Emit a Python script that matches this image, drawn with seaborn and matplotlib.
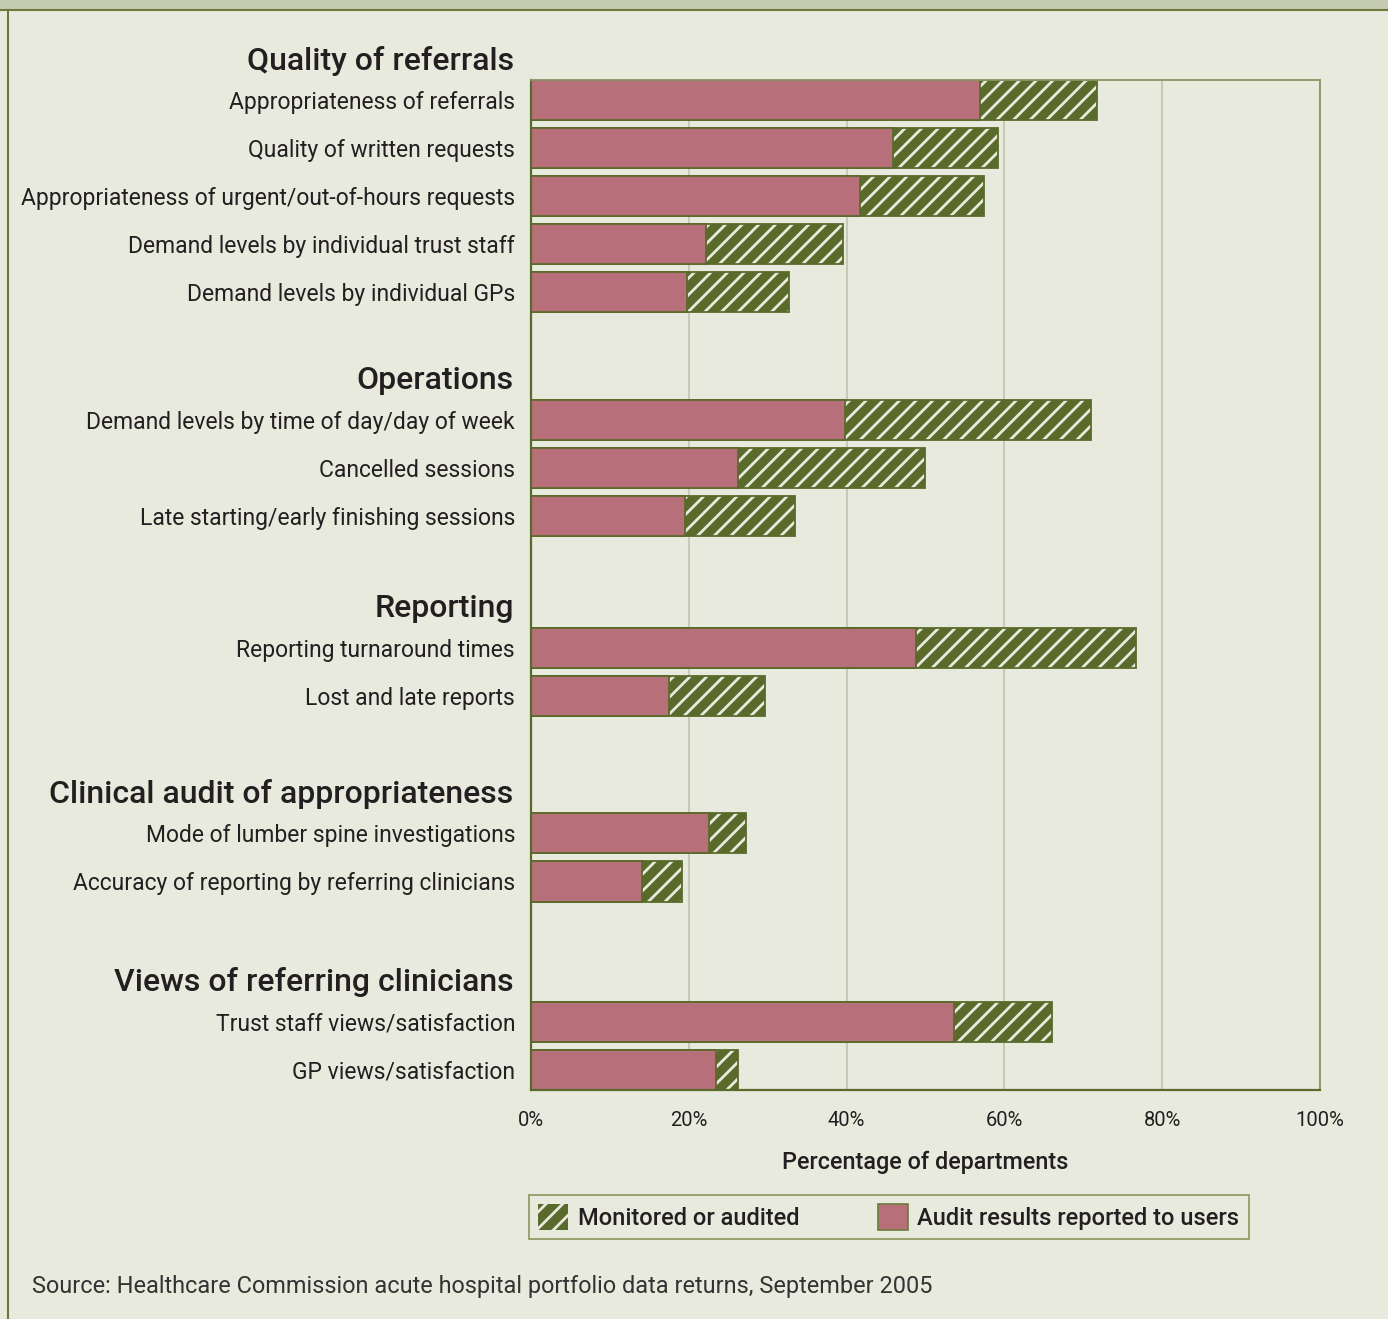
import pandas as pd
import matplotlib.pyplot as plt
import seaborn as sns
from matplotlib.patches import Patch, Rectangle
from matplotlib.lines import Line2D
from matplotlib.transforms import blended_transform_factory

groups = ['Quality of referrals'] * 5 + ['Operations'] * 3 + ['Reporting'] * 2 + \
         ['Clinical audit of appropriateness'] * 2 + ['Views of referring clinicians'] * 2

items = [
    'Appropriateness of referrals',
    'Quality of written requests',
    'Appropriateness of urgent/out-of-hours requests',
    'Demand levels by individual trust staff',
    'Demand levels by individual GPs',
    'Demand levels by time of day/day of week',
    'Cancelled sessions',
    'Late starting/early finishing sessions',
    'Reporting turnaround times',
    'Lost and late reports',
    'Mode of lumber spine investigations',
    'Accuracy of reporting by referring clinicians',
    'Trust staff views/satisfaction',
    'GP views/satisfaction',
]

# audit results reported to users (solid part)
reported = [56.9, 45.9, 41.7, 22.2, 19.8, 39.8, 26.2, 19.5, 48.8, 17.5, 22.6, 14.1, 53.6, 23.4]
# monitored or audited (full length of bar)
monitored = [71.7, 59.2, 57.4, 39.5, 32.7, 71.0, 49.9, 33.5, 76.7, 29.7, 27.2, 19.1, 66.0, 26.2]

xticks = [0, 20, 40, 60, 80, 100]
xticklabels = ['0%', '20%', '40%', '60%', '80%', '100%']

df = pd.DataFrame({'group': groups, 'item': items,
                   'reported': reported, 'monitored': monitored})

# row positions: one unit per bar, extra space between groups
GROUP_GAPS = [1.65, 1.75, 1.85, 1.92]
pos, cur, prev, k = [], 0.0, None, 0
for g in df['group']:
    if prev is not None:
        cur += 1
        if g != prev:
            cur += GROUP_GAPS[k]
            k += 1
    pos.append(cur)
    prev = g
df['pos'] = pos

BG = '#e8eadd'
PINK = '#b7707a'
OLIVE = '#5a6a2b'
LIGHT = '#e8eadd'
GRID = '#c8cab6'
TXT = '#231f20'

sns.set_style('white', {'axes.facecolor': BG, 'figure.facecolor': BG})
plt.rcParams['font.family'] = ['Roboto', 'DejaVu Sans']
plt.rcParams['hatch.linewidth'] = 2.0

fig = plt.figure(figsize=(13.88, 13.19), dpi=100)
ax = fig.add_axes([0.3826, 0.1736, 0.5684, 0.7657])

BAR_H = 0.833
sns.barplot(data=df, x='monitored', y='pos', orient='y', native_scale=True,
            color=OLIVE, hatch='//', edgecolor=LIGHT, linewidth=0,
            width=BAR_H, saturation=1, errorbar=None, ax=ax)
sns.barplot(data=df, x='monitored', y='pos', orient='y', native_scale=True,
            fill=False, edgecolor=OLIVE, linewidth=1.3,
            width=BAR_H, errorbar=None, ax=ax)
sns.barplot(data=df, x='reported', y='pos', orient='y', native_scale=True,
            color=PINK, edgecolor=OLIVE, linewidth=1.3,
            width=BAR_H, saturation=1, errorbar=None, ax=ax)

ax.set_xlim(0, 100)
ax.set_ylim(df['pos'].max() + BAR_H / 2, df['pos'].min() - BAR_H / 2)
ax.set_xticks(xticks)
ax.set_xticklabels(xticklabels)
ax.set_yticks(df['pos'])
ax.set_yticklabels(df['item'])
ax.tick_params(axis='y', length=0, pad=11.5, labelsize=16.5, labelcolor=TXT)
ax.tick_params(axis='x', length=6, width=1.2, color=GRID, pad=9, labelsize=14.5, labelcolor=TXT)
ax.set_xlabel('Percentage of departments', fontsize=16.8, color=TXT, labelpad=15,
              fontweight='medium')
ax.set_ylabel('')
ax.grid(axis='x', color=GRID, linewidth=1.5)
ax.set_axisbelow(True)

for side in ['left', 'bottom']:
    ax.spines[side].set_color(OLIVE)
    ax.spines[side].set_linewidth(1.6)
for side in ['top', 'right']:
    ax.spines[side].set_color('#8a9563')
    ax.spines[side].set_linewidth(1.3)

# group headers
trans = blended_transform_factory(ax.transAxes, ax.transData)
for g, first in df.groupby('group', sort=False)['pos'].min().items():
    ax.text(-0.022, first - 0.82, g, transform=trans, ha='right', va='center',
            fontsize=23, color=TXT, fontweight='medium')

handles = [Patch(facecolor=OLIVE, edgecolor=LIGHT, hatch='//', linewidth=0),
           Patch(facecolor=PINK, edgecolor='#6b7a3a', linewidth=1.2)]
leg = fig.legend(handles, ['Monitored or audited', 'Audit results reported to users'],
                 loc='center', bbox_to_anchor=(0.6404, 0.0773), ncol=2,
                 fontsize=17, frameon=True, fancybox=False, handlelength=1.27,
                 handleheight=1.27, handletextpad=0.42, columnspacing=3.3,
                 borderpad=0.4)
leg.get_frame().set_edgecolor('#7d8a4a')
leg.get_frame().set_facecolor(BG)
leg.get_frame().set_linewidth(1.3)
for t in leg.get_texts():
    t.set_color(TXT)
    t.set_fontweight('medium')

fig.text(0.023, 0.025, 'Source: Healthcare Commission acute hospital portfolio data returns, September 2005',
         ha='left', va='center', fontsize=16.9, color='#333333')

# frame decoration: top band and left rule
fig.add_artist(Rectangle((0, 1 - 10 / 1319), 1, 10 / 1319, transform=fig.transFigure,
                         facecolor='#c5cbb0', edgecolor='none'))
fig.add_artist(Line2D([0, 1], [1 - 10 / 1319] * 2, transform=fig.transFigure,
                      color='#6b7a3a', linewidth=1.5))
fig.add_artist(Line2D([7.5 / 1388] * 2, [0, 1 - 10 / 1319], transform=fig.transFigure,
                      color='#6b7a3a', linewidth=1.5))

fig.savefig('out.png', dpi=100, facecolor=BG)
